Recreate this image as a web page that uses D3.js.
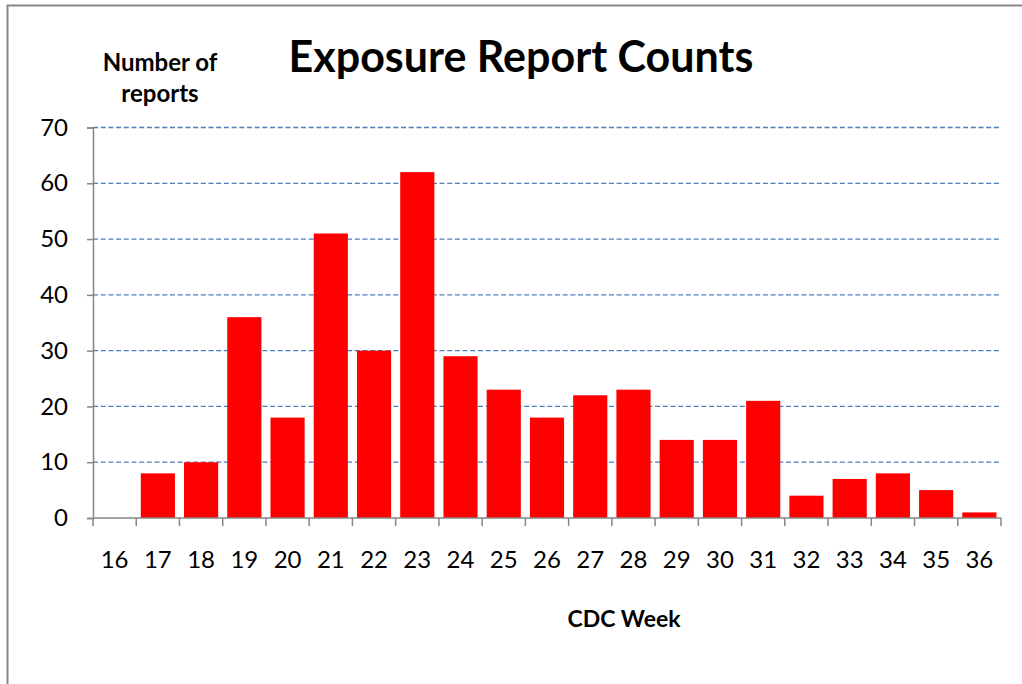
<!DOCTYPE html>
<html>
<head>
<meta charset="utf-8">
<script src="https://cdn.jsdelivr.net/npm/d3@7"></script>
<style>
  body { margin: 0; background: #fff; }
  text { font-family: Lato, "Open Sans", sans-serif; fill: #000; }
</style>
</head>
<body>
<div id="chart"></div>
<script>
var weeks = ['16', '17', '18', '19', '20', '21', '22', '23', '24', '25', '26',
             '27', '28', '29', '30', '31', '32', '33', '34', '35', '36'];
var reports = [0, 8, 10, 36, 18, 51, 30, 62, 29, 23, 18, 22, 23, 14, 14, 21, 4, 7, 8, 5, 1];
var yTicks = [0, 10, 20, 30, 40, 50, 60, 70];

var W = 1022, H = 684;
var margin = {top: 127.5, right: 21, bottom: 166, left: 93},
    width = W - margin.left - margin.right,
    height = H - margin.top - margin.bottom;

var svg = d3.select('#chart').append('svg')
    .attr('width', W)
    .attr('height', H);

// outer frame
svg.append('rect')
    .attr('x', 7.5).attr('y', 5.5)
    .attr('width', W + 10).attr('height', H + 10)
    .attr('fill', 'none')
    .attr('stroke', '#888')
    .attr('stroke-width', 2);

var g = svg.append('g')
    .attr('transform', 'translate(' + margin.left + ',' + margin.top + ')');

var xScale = d3.scaleBand()
    .domain(weeks)
    .range([0, width])
    .paddingInner(0.21)
    .paddingOuter(0.105);

var yScale = d3.scaleLinear()
    .domain([0, 70])
    .range([height, 0]);

// gridlines
g.selectAll('.grid')
    .data(yTicks.filter(function(d) { return d > 0; }))
  .enter().append('line')
    .attr('class', 'grid')
    .attr('x1', 0).attr('x2', width)
    .attr('y1', function(d) { return yScale(d); })
    .attr('y2', function(d) { return yScale(d); })
    .attr('stroke', '#4a7ebb')
    .attr('stroke-width', 1.3)
    .attr('stroke-dasharray', '5,2.7');

// bars
g.selectAll('.bar')
    .data(reports)
  .enter().append('rect')
    .attr('class', 'bar')
    .attr('x', function(d, i) { return xScale(weeks[i]); })
    .attr('width', xScale.bandwidth())
    .attr('y', function(d) { return yScale(d); })
    .attr('height', function(d) { return height - yScale(d); })
    .attr('fill', '#ff0000');

// y axis
var yAxis = g.append('g')
    .call(d3.axisLeft(yScale).tickValues(yTicks).tickSize(6).tickPadding(19));
yAxis.selectAll('path, line').attr('stroke', '#868686').attr('stroke-width', 1.5);
yAxis.selectAll('text')
    .style('font-size', '24px')
    .attr('font-family', null);

// x axis: ticks between categories
var step = xScale.step();
var xAxisG = g.append('g')
    .attr('transform', 'translate(0,' + height + ')');
xAxisG.append('line')
    .attr('x1', 0).attr('x2', width)
    .attr('stroke', '#868686').attr('stroke-width', 1.5);
xAxisG.selectAll('.xtick')
    .data(d3.range(weeks.length + 1))
  .enter().append('line')
    .attr('class', 'xtick')
    .attr('x1', function(i) { return i * step; })
    .attr('x2', function(i) { return i * step; })
    .attr('y1', 0).attr('y2', 8)
    .attr('stroke', '#868686').attr('stroke-width', 1.5);
xAxisG.selectAll('.xlabel')
    .data(weeks)
  .enter().append('text')
    .attr('class', 'xlabel')
    .attr('x', function(d) { return xScale(d) + xScale.bandwidth() / 2; })
    .attr('y', 50)
    .attr('text-anchor', 'middle')
    .style('font-size', '24px')
    .text(function(d) { return d; });

// titles
svg.append('text')
    .attr('x', 521).attr('y', 72)
    .attr('text-anchor', 'middle')
    .style('font-size', '43px')
    .style('font-weight', 'bold')
    .text('Exposure Report Counts');

svg.append('text')
    .attr('x', 160).attr('y', 71)
    .attr('text-anchor', 'middle')
    .style('font-size', '24px')
    .style('font-weight', 'bold')
    .text('Number of');
svg.append('text')
    .attr('x', 160).attr('y', 102)
    .attr('text-anchor', 'middle')
    .style('font-size', '24px')
    .style('font-weight', 'bold')
    .text('reports');

svg.append('text')
    .attr('x', 624).attr('y', 627)
    .attr('text-anchor', 'middle')
    .style('font-size', '23px')
    .style('font-weight', 'bold')
    .text('CDC Week');
</script>
</body>
</html>
